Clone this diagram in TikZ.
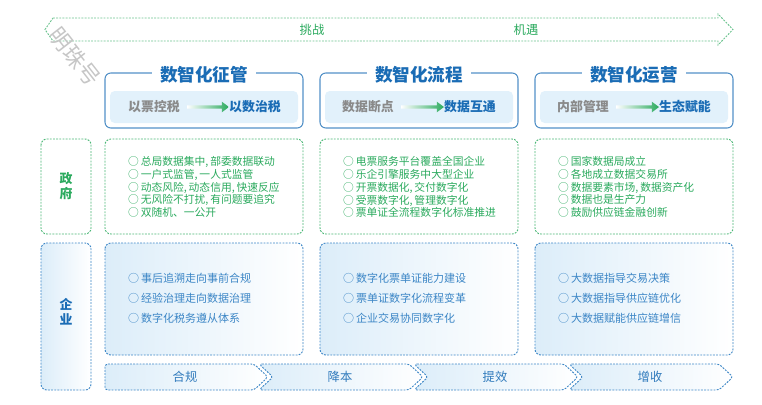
\documentclass[tikz,border=0pt]{standalone}
\usepackage{fontspec}
\setmainfont{Noto Sans CJK SC}
\usetikzlibrary{calc}
\definecolor{zgreen}{HTML}{2BAA5E}
\definecolor{zblue}{HTML}{1A6CB5}
\definecolor{lblue}{HTML}{3C86C6}
\definecolor{zgray}{HTML}{8A8A8A}
\definecolor{hdfill}{HTML}{E2F1FB}
\definecolor{shblue}{HTML}{DCEDF9}
\definecolor{shgreen}{HTML}{DDF3E6}

\begin{document}
\begin{tikzpicture}[x=0.3mm, y=-0.3mm,
		frame/.style = {draw=zblue!75, line width=0.9pt, rounded corners=5pt},
		hdbox/.style = {fill=hdfill, rounded corners=4pt},
		ttl/.style = {fill=white, text=zblue, inner xsep=7pt, inner ysep=1pt, font=\bfseries\fontsize{15}{15}\selectfont},
		oldway/.style = {text=zgray, inner sep=0pt, font=\bfseries\fontsize{11}{11}\selectfont},
		newway/.style = {text=zblue, inner sep=0pt, font=\bfseries\fontsize{11}{11}\selectfont},
		govbox/.style = {draw=zgreen!85, fill=white, line width=0.8pt, dash pattern=on 1.6pt off 1.1pt, rounded corners=5pt},
		entbox/.style = {draw=lblue, left color=shblue, right color=white, line width=0.8pt, dash pattern=on 1.6pt off 1.1pt, rounded corners=5pt},
		govtxt/.style = {text=zgreen, anchor=west, align=left, inner sep=0pt, font=\fontsize{9.2}{11}\selectfont},
		enttxt/.style = {text=lblue, anchor=west, align=left, inner sep=0pt, font=\fontsize{9.4}{17}\selectfont},
		side/.style = {align=center, inner sep=0pt, font=\bfseries\fontsize{11}{13}\selectfont},
		band/.style = {draw=zgreen!70, left color=white, middle color=shgreen, right color=white, line width=0.8pt, dash pattern=on 1.6pt off 1.1pt},
		bandtxt/.style = {text=zgreen, font=\fontsize{10.5}{10.5}\selectfont},
		chev/.style = {draw=lblue, left color=shblue, right color=white, line width=0.8pt, dash pattern=on 1.6pt off 1.1pt, rounded corners=2.5pt},
		chevtxt/.style = {text=zblue!90, font=\fontsize{10.5}{10.5}\selectfont},
		flow/.style = {left color=white, right color=zgreen}
	]
	\useasboundingbox (0,0) rectangle (762,404);

	% top band
	\draw[band] (53,18) -- (718,18) -- (718,14) -- (733,29.5) -- (718,45) -- (718,41) -- (53,41) -- (45,29.5) -- cycle;
	\node[bandtxt] (chal) at (312,30) {挑战};
	\node[bandtxt] (opp) at (526,30) {机遇};

	% watermark
	\node[rotate=-52, text=gray!45, font=\fontsize{19}{19}\selectfont] (mark) at (75,57) {明珠号};

	% column headers
	\draw[frame] (105,73) rectangle (303,128);
	\draw[frame] (320,73) rectangle (518,128);
	\draw[frame] (535,73) rectangle (733,128);
	\node[ttl] (t1) at (204,75) {数智化征管};
	\node[ttl] (t2) at (419,75) {数智化流程};
	\node[ttl] (t3) at (634,75) {数智化运营};
	\fill[hdbox] (110,91) rectangle (298,123);
	\fill[hdbox] (325,91) rectangle (513,123);
	\fill[hdbox] (540,91) rectangle (728,123);
	\node[oldway] (s1) at (154,107) {以票控税};
	\node[newway] (d1) at (255,107) {以数治税};
	\node[oldway] (s2) at (368,107) {数据断点};
	\node[newway] (d2) at (470,107) {数据互通};
	\node[oldway] (s3) at (583,107) {内部管理};
	\node[newway] (d3) at (685,107) {生态赋能};
	\shade[flow] let \p1=(s1.east), \p2=(d1.west) in (\x1+6pt,\y1+1.4pt) -- (\x2-6pt,\y1+1.4pt) -- (\x2-6pt,\y1+4.5pt) -- (\x2,\y1) -- (\x2-6pt,\y1-4.5pt) -- (\x2-6pt,\y1-1.4pt) -- (\x1+6pt,\y1-1.4pt) -- cycle;
	\shade[flow] let \p1=(s2.east), \p2=(d2.west) in (\x1+6pt,\y1+1.4pt) -- (\x2-6pt,\y1+1.4pt) -- (\x2-6pt,\y1+4.5pt) -- (\x2,\y1) -- (\x2-6pt,\y1-4.5pt) -- (\x2-6pt,\y1-1.4pt) -- (\x1+6pt,\y1-1.4pt) -- cycle;
	\shade[flow] let \p1=(s3.east), \p2=(d3.west) in (\x1+6pt,\y1+1.4pt) -- (\x2-6pt,\y1+1.4pt) -- (\x2-6pt,\y1+4.5pt) -- (\x2,\y1) -- (\x2-6pt,\y1-4.5pt) -- (\x2-6pt,\y1-1.4pt) -- (\x1+6pt,\y1-1.4pt) -- cycle;

	% government row
	\draw[govbox] (41,139) rectangle (91,234) node[pos=.5, side, text=zgreen] (gov) {政\\府};
	\draw[govbox] (105,139) rectangle (303,234);
	\draw[govbox] (320,139) rectangle (518,234);
	\draw[govbox] (535,139) rectangle (733,234);
	\node[govtxt] (g1) at (128,187) {○\,总局数据集中,\,部委数据联动\\○\,一户式监管,\,一人式监管\\○\,动态风险,\,动态信用,\,快速反应\\○\,无风险不打扰,\,有问题要追究\\○\,双随机、一公开};
	\node[govtxt] (g2) at (343,187) {○\,电票服务平台覆盖全国企业\\○\,乐企引擎服务中大型企业\\○\,开票数据化,\,交付数字化\\○\,受票数字化,\,管理数字化\\○\,票单证全流程数字化标准推进};
	\node[govtxt] (g3) at (558,187) {○\,国家数据局成立\\○\,各地成立数据交易所\\○\,数据要素市场,\,数据资产化\\○\,数据也是生产力\\○\,鼓励供应链金融创新};

	% enterprise row
	\draw[entbox] (41,243) rectangle (91,390);
	\node[side, text=zblue] (ent) at (66,312) {企\\业};
	\draw[entbox] (105,243) rectangle (303,355);
	\draw[entbox] (320,243) rectangle (518,355);
	\draw[entbox] (535,243) rectangle (733,355);
	\node[enttxt] (e1) at (128,298) {○\,事后追溯走向事前合规\\○\,经验治理走向数据治理\\○\,数字化税务遵从体系};
	\node[enttxt] (e2) at (343,298) {○\,数字化票单证能力建设\\○\,票单证数字化流程变革\\○\,企业交易协同数字化};
	\node[enttxt] (e3) at (558,298) {○\,大数据指导交易决策\\○\,大数据指导供应链优化\\○\,大数据赋能供应链增信};

	% bottom steps
	\draw[chev] (105,364) -- (254,364) -- (268,377) -- (254,390) -- (105,390) -- cycle;
	\draw[chev] (259,364) -- (409,364) -- (423,377) -- (409,390) -- (259,390) -- (273,377) -- cycle;
	\draw[chev] (414,364) -- (564,364) -- (578,377) -- (564,390) -- (414,390) -- (428,377) -- cycle;
	\draw[chev] (569,364) -- (719,364) -- (733,377) -- (719,390) -- (569,390) -- (583,377) -- cycle;
	\node[chevtxt] (c1) at (185,377) {合规};
	\node[chevtxt] (c2) at (340,377) {降本};
	\node[chevtxt] (c3) at (495,377) {提效};
	\node[chevtxt] (c4) at (650,377) {增收};
\end{tikzpicture}
\end{document}
